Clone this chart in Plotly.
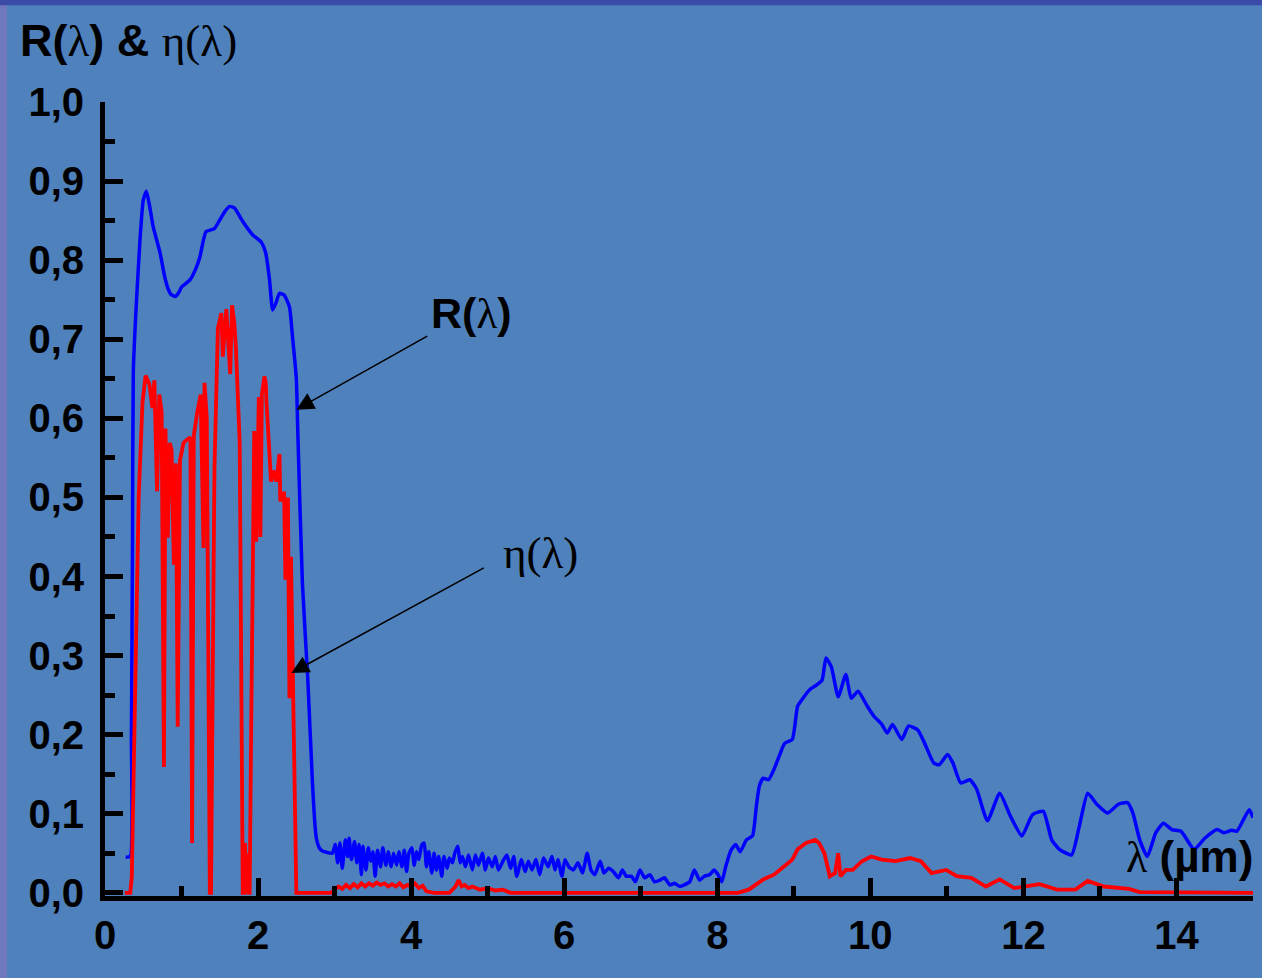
import plotly.graph_objects as go

# ---------------- data ----------------
wl_R = [0.27, 0.33, 0.345, 0.36, 0.37, 0.41, 0.46, 0.50, 0.54, 0.58, 0.63, 0.72, 0.78, 0.82, 0.86, 0.92,
        0.97, 1.00, 1.11, 1.19, 1.24, 1.32, 1.43, 1.50, 1.57, 1.63, 1.69, 1.80, 1.93, 2.04, 2.10, 2.15,
        2.19, 2.23, 2.28, 2.34, 2.41, 2.45, 2.50, 2.52, 2.58, 2.65, 2.71, 2.74, 2.76, 2.80, 2.84, 2.97,
        3.008, 3.04, 3.07, 3.10, 3.14, 3.17, 3.19, 3.22, 3.26, 3.29, 3.32, 3.35, 3.37, 3.41, 3.44, 3.47,
        3.50, 3.53, 3.56, 3.60, 3.63, 3.67, 3.70, 3.74, 3.77, 3.81, 3.84, 3.88, 3.91, 3.94, 3.97, 4.01,
        4.04, 4.07, 4.10, 4.14, 4.17, 4.20, 4.23, 4.27, 4.30, 4.33, 4.36, 4.40, 4.43, 4.47, 4.50, 4.54,
        4.57, 4.61, 4.64, 4.67, 4.71, 4.75, 4.80, 4.84, 4.88, 4.93, 4.97, 5.01, 5.06, 5.10, 5.14, 5.20,
        5.25, 5.30, 5.34, 5.38, 5.44, 5.49, 5.53, 5.58, 5.63, 5.68, 5.73, 5.79, 5.84, 5.88, 5.92, 5.97,
        6.01, 6.06, 6.12, 6.18, 6.24, 6.30, 6.35, 6.40, 6.47, 6.52, 6.58, 6.64, 6.71, 6.76, 6.81, 6.88,
        6.93, 6.99, 7.05, 7.12, 7.18, 7.25, 7.31, 7.38, 7.44, 7.51, 7.57, 7.64, 7.70, 7.77, 7.83, 7.90,
        7.96, 8.01, 8.06, 8.11, 8.18, 8.24, 8.30, 8.38, 8.46, 8.51, 8.55, 8.60, 8.67, 8.74, 8.81, 8.88,
        8.98, 9.05, 9.12, 9.21, 9.30, 9.37, 9.42, 9.49, 9.58, 9.68, 9.75, 9.84, 9.96, 10.05, 10.15, 10.22,
        10.29, 10.41, 10.50, 10.62, 10.71, 10.83, 10.90, 11.01, 11.08, 11.18, 11.30, 11.39, 11.53, 11.69, 11.83, 11.98,
        12.12, 12.26, 12.37, 12.47, 12.63, 12.73, 12.84, 12.96, 13.10, 13.24, 13.36, 13.43, 13.52, 13.62, 13.73, 13.83,
        13.94, 14.06, 14.23, 14.37, 14.53, 14.62, 14.72, 14.79, 14.95, 15.0]
R_vals = [0.045, 0.046, 0.20, 0.45, 0.66, 0.746, 0.83, 0.876, 0.887, 0.87, 0.842, 0.809, 0.779, 0.765, 0.757, 0.754,
          0.760, 0.766, 0.775, 0.79, 0.804, 0.836, 0.840, 0.851, 0.862, 0.868, 0.866, 0.849, 0.832, 0.823, 0.809, 0.775,
          0.737, 0.745, 0.758, 0.756, 0.741, 0.703, 0.65, 0.58, 0.39, 0.27, 0.14, 0.09, 0.07, 0.057, 0.053, 0.050,
          0.061, 0.038, 0.063, 0.031, 0.067, 0.046, 0.069, 0.042, 0.065, 0.038, 0.061, 0.023, 0.059, 0.029, 0.057, 0.040,
          0.052, 0.021, 0.054, 0.033, 0.057, 0.035, 0.052, 0.033, 0.050, 0.035, 0.052, 0.033, 0.054, 0.027, 0.050, 0.057,
          0.035, 0.052, 0.042, 0.061, 0.063, 0.033, 0.052, 0.025, 0.050, 0.029, 0.046, 0.021, 0.046, 0.031, 0.044, 0.038,
          0.050, 0.059, 0.038, 0.046, 0.033, 0.048, 0.029, 0.048, 0.035, 0.050, 0.029, 0.044, 0.033, 0.046, 0.029, 0.040,
          0.048, 0.031, 0.046, 0.021, 0.042, 0.027, 0.040, 0.029, 0.042, 0.023, 0.044, 0.033, 0.046, 0.029, 0.042, 0.021,
          0.042, 0.033, 0.029, 0.038, 0.025, 0.050, 0.029, 0.023, 0.040, 0.025, 0.031, 0.027, 0.019, 0.029, 0.021, 0.021,
          0.014, 0.029, 0.019, 0.023, 0.014, 0.016, 0.019, 0.010, 0.012, 0.008, 0.010, 0.014, 0.029, 0.016, 0.021, 0.023,
          0.029, 0.023, 0.014, 0.033, 0.054, 0.061, 0.052, 0.067, 0.072, 0.109, 0.135, 0.145, 0.143, 0.156, 0.173, 0.189,
          0.194, 0.236, 0.246, 0.257, 0.263, 0.269, 0.297, 0.286, 0.248, 0.276, 0.246, 0.255, 0.236, 0.223, 0.213, 0.202,
          0.213, 0.194, 0.211, 0.206, 0.189, 0.164, 0.162, 0.175, 0.164, 0.139, 0.143, 0.131, 0.091, 0.126, 0.097, 0.072,
          0.099, 0.103, 0.067, 0.055, 0.048, 0.084, 0.126, 0.112, 0.101, 0.112, 0.114, 0.101, 0.067, 0.046, 0.076, 0.088,
          0.080, 0.078, 0.055, 0.069, 0.080, 0.076, 0.079, 0.078, 0.105, 0.095]

wl_eta = [0.26, 0.33, 0.35, 0.40, 0.44, 0.49, 0.53, 0.58, 0.62, 0.645, 0.68, 0.71, 0.74, 0.77, 0.79, 0.82,
          0.846, 0.87, 0.90, 0.927, 0.95, 0.98, 1.026, 1.07, 1.116, 1.138, 1.16, 1.206, 1.25, 1.287, 1.30, 1.33,
          1.35, 1.37, 1.385, 1.40, 1.42, 1.43, 1.475, 1.52, 1.54, 1.585, 1.636, 1.66, 1.69, 1.71, 1.76, 1.78,
          1.80, 1.82, 1.83, 1.84, 1.86, 1.875, 1.89, 1.91, 1.93, 1.95, 1.975, 2.01, 2.03, 2.05, 2.083, 2.10,
          2.11, 2.17, 2.20, 2.24, 2.28, 2.29, 2.34, 2.357, 2.39, 2.41, 2.43, 2.46, 2.48, 2.50, 2.95, 3.0,
          3.05, 3.10, 3.15, 3.20, 3.25, 3.30, 3.35, 3.40, 3.45, 3.50, 3.55, 3.60, 3.65, 3.70, 3.75, 3.80,
          3.85, 3.90, 3.95, 4.00, 4.05, 4.10, 4.15, 4.20, 4.30, 4.50, 4.58, 4.62, 4.66, 4.70, 4.75, 4.80,
          4.90, 5.00, 5.10, 5.20, 5.30, 8.27, 8.41, 8.60, 8.74, 8.88, 8.98, 9.05, 9.16, 9.28, 9.33, 9.40,
          9.47, 9.54, 9.58, 9.61, 9.68, 9.77, 9.89, 10.01, 10.15, 10.33, 10.52, 10.66, 10.80, 10.99, 11.13, 11.32,
          11.51, 11.69, 11.88, 12.21, 12.44, 12.68, 12.84, 13.05, 13.38, 13.52, 15.0]
eta_vals = [0.0, 0.0, 0.02, 0.28, 0.50, 0.62, 0.654, 0.643, 0.613, 0.648, 0.508, 0.63, 0.608, 0.159, 0.587, 0.449,
            0.569, 0.56, 0.415, 0.543, 0.21, 0.547, 0.569, 0.573, 0.576, 0.063, 0.578, 0.608, 0.63, 0.436, 0.645, 0.60,
            0.20, 0.0, 0.0, 0.20, 0.45, 0.536, 0.714, 0.733, 0.678, 0.738, 0.656, 0.743, 0.72, 0.69, 0.569, 0.28,
            0.0, 0.0, 0.063, 0.0, 0.05, 0.0, 0.0, 0.207, 0.425, 0.584, 0.444, 0.627, 0.45, 0.63, 0.653, 0.645,
            0.62, 0.52, 0.534, 0.52, 0.555, 0.495, 0.507, 0.396, 0.50, 0.246, 0.425, 0.236, 0.135, 0.0, 0.0, 0.004,
            0.008, 0.005, 0.010, 0.006, 0.011, 0.007, 0.012, 0.008, 0.012, 0.009, 0.013, 0.010, 0.012, 0.008, 0.011, 0.008,
            0.012, 0.007, 0.010, 0.008, 0.012, 0.006, 0.009, 0.002, 0.0, 0.0, 0.008, 0.016, 0.008, 0.010, 0.006, 0.008,
            0.004, 0.006, 0.003, 0.004, 0.0, 0.0, 0.004, 0.017, 0.023, 0.034, 0.042, 0.055, 0.063, 0.067, 0.063, 0.05,
            0.021, 0.025, 0.05, 0.021, 0.029, 0.029, 0.04, 0.046, 0.042, 0.04, 0.044, 0.04, 0.025, 0.029, 0.021, 0.019,
            0.008, 0.017, 0.006, 0.011, 0.004, 0.004, 0.015, 0.008, 0.005, 0.001, 0.0]

y_ticks = [0.0, 0.1, 0.2, 0.3, 0.4, 0.5, 0.6, 0.7, 0.8, 0.9, 1.0]
y_ticktext = ["0,0", "0,1", "0,2", "0,3", "0,4", "0,5", "0,6", "0,7", "0,8", "0,9", "1,0"]
x_ticks = [0, 2, 4, 6, 8, 10, 12, 14]

# ---------------- figure ----------------
BG = "#4f81bd"
SANS = "Liberation Sans"
SERIF = "Liberation Serif"

fig = go.Figure()
fig.add_trace(go.Scatter(x=wl_R, y=R_vals, mode="lines",
                         line=dict(color="#0000ff", width=3.5, shape="spline", smoothing=0.5),
                         showlegend=False, hoverinfo="skip"))
fig.add_trace(go.Scatter(x=wl_eta, y=eta_vals, mode="lines", line=dict(color="#ff0000", width=3.8),
                         showlegend=False, hoverinfo="skip"))

axis_common = dict(showgrid=False, zeroline=False, showline=True, linecolor="black", linewidth=5,
                   ticks="inside", ticklen=18, tickwidth=5, tickcolor="black",
                   tickfont=dict(family=SANS, size=40, color="black", weight="bold"))

fig.update_xaxes(range=[0, 15], tickvals=x_ticks, ticklabelstandoff=0,
                 minor=dict(dtick=1, ticks="inside", ticklen=10, tickwidth=5, tickcolor="black"),
                 **axis_common)
fig.update_yaxes(range=[-0.004, 1.0], tickvals=y_ticks, ticktext=y_ticktext, ticklabelstandoff=8,
                 minor=dict(dtick=0.05, ticks="inside", ticklen=10, tickwidth=5, tickcolor="black"),
                 **axis_common)

lam = f"<span style='font-family:{SERIF};font-weight:normal'>λ</span>"
eta = f"<span style='font-family:{SERIF};font-weight:normal'>η(λ)</span>"

annotations = [
    # axis title (top-left)
    dict(xref="paper", yref="paper", x=-0.076, y=1.078, xanchor="left", yanchor="middle",
         text=f"<b>R(</b>{lam}<b>) &amp; </b>{eta}", showarrow=False,
         font=dict(family=SANS, size=45, color="black")),
    # x axis title
    dict(x=1.002, y=0.045, xref="paper", yref="y", xanchor="right", yanchor="middle",
         text=f"{lam}<b> (µm)</b>", showarrow=False, font=dict(family=SANS, size=44, color="black")),
    # curve labels
    dict(x=4.23, y=0.733, xref="x", yref="y", xanchor="left", yanchor="middle",
         text=f"<b>R(</b>{lam}<b>)</b>", showarrow=False, font=dict(family=SANS, size=43, color="black")),
    dict(x=5.17, y=0.43, xref="x", yref="y", xanchor="left", yanchor="middle",
         text=eta, showarrow=False, font=dict(family=SANS, size=45, color="black")),
    # arrows
    dict(x=2.50, y=0.611, ax=4.23, ay=0.705, xref="x", yref="y", axref="x", ayref="y", text="",
         showarrow=True, arrowhead=2, arrowsize=2.2, arrowwidth=1.6, arrowcolor="black"),
    dict(x=2.435, y=0.278, ax=4.97, ay=0.412, xref="x", yref="y", axref="x", ayref="y", text="",
         showarrow=True, arrowhead=2, arrowsize=2.2, arrowwidth=1.6, arrowcolor="black"),
]

shapes = [
    dict(type="rect", xref="paper", yref="paper", x0=-0.0915, x1=-0.0854, y0=-0.11, y1=1.13,
         fillcolor="#7079bd", line=dict(width=0), layer="below"),
    dict(type="rect", xref="paper", yref="paper", x0=-0.0915, x1=1.01, y0=1.122, y1=1.13,
         fillcolor="#3c4ba8", line=dict(width=0), layer="below"),
]

fig.update_layout(width=1262, height=978, autosize=False,
                  margin=dict(l=105, r=9, t=102, b=82, pad=0),
                  paper_bgcolor=BG, plot_bgcolor=BG,
                  annotations=annotations, shapes=shapes,
                  font=dict(family=SANS, color="black"))

fig.write_html("out.html", config={"displayModeBar": False},
               post_script="document.body.style.margin='0';")
